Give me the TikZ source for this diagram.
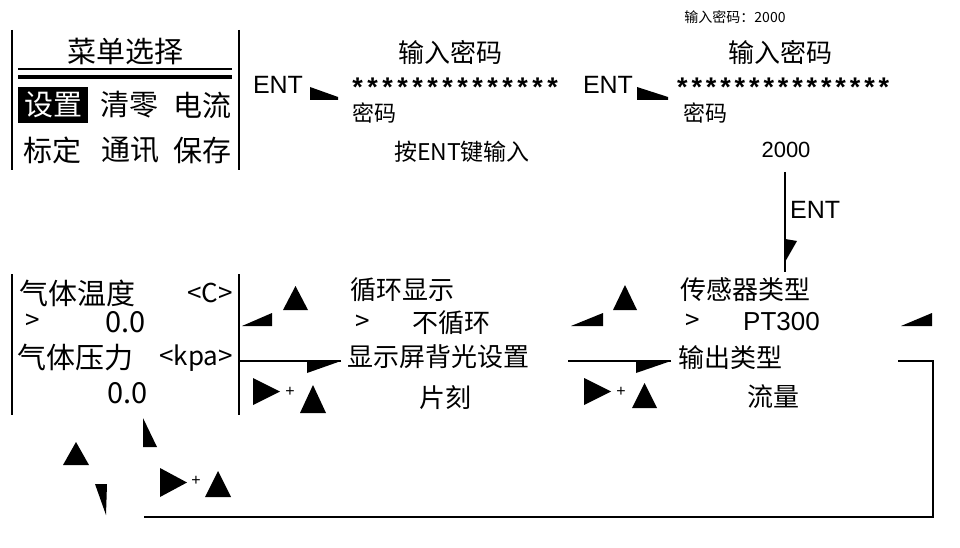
\documentclass[tikz,border=0pt]{standalone}
\usepackage{fontspec}
\setmainfont{Liberation Sans}
\newfontfamily\cjk{Noto Sans CJK SC}
\newcommand\fs[1]{\fontsize{#1}{#1}\selectfont}
\newcommand\starrun[2]{\foreach \i in {1,...,#1}{\makebox[#2]{\raisebox{-12pt}{*}}}}
\begin{document}
\begin{tikzpicture}[x=1pt,y=-1pt,
  cj/.style={inner sep=0pt, font=\cjk\fs{26}},
  cjbig/.style={inner sep=0pt, font=\cjk\fs{29}},
  cjsmall/.style={inner sep=0pt, font=\cjk\fs{14}},
  lat/.style={inner sep=0pt, font=\fs{25}},
  stars/.style={inner sep=0pt, font=\bfseries\fs{27}, text height=9pt, text depth=0pt},
  wedge/.style={fill=black, draw=none},
  ln/.style={line width=2pt},
  thickln/.style={line width=4pt}]
\useasboundingbox (0,0) rectangle (960,548);

% ---------- top-left menu box ----------
\coordinate (b1tl) at (12,30);  \coordinate (b1bl) at (12,170);
\coordinate (b1tr) at (239,30); \coordinate (b1br) at (239,170);
\draw[ln] (b1tl) -- (b1bl);
\draw[ln] (b1tr) -- (b1br);
\node[cjbig] (title) at (125,52) {菜单选择};
\coordinate (d1a) at (18,69); \coordinate (d1b) at (232,69);
\coordinate (d2a) at (18,77); \coordinate (d2b) at (232,77);
\draw[ln] (d1a) -- (d1b);
\draw[thickln] (d2a) -- (d2b);
\node[cjbig, fill=black, text=white, minimum width=70pt, minimum height=36pt] (m1) at (53,105) {设置};
\node[cjbig] (m2) at (129,105) {清零};
\node[cjbig] (m3) at (202,105) {电流};
\node[cjbig] (m4) at (52,150) {标定};
\node[cjbig] (m5) at (130,150) {通讯};
\node[cjbig] (m6) at (202,150) {保存};

% ---------- ENT 1 ----------
\node[lat] (ent1) at (278,85) {ENT};
\fill[wedge] (310,87) -- (310,100) -- (338,100) -- (338,97) -- cycle;

% ---------- password screen 1 ----------
\node[cj] (p1t) at (450,52) {输入密码};
\node[stars, anchor=base west] (p1s) at (350,85) {\starrun{14}{15pt}};
\node[cj, font=\cjk\fs{22}, anchor=west] (p1k) at (352,113) {密码};
\node[cj, font=\cjk\fs{23}] (p1h) at (462,152) {按ENT键输入};

% ---------- ENT 2 ----------
\node[lat] (ent2) at (608,85) {ENT};
\fill[wedge] (637,87) -- (637,100) -- (668,100) -- (668,97) -- cycle;

% ---------- password screen 2 ----------
\node[cjsmall] (p2n) at (735,17) {输入密码：2000};
\node[cj] (p2t) at (780,52) {输入密码};
\node[stars, anchor=base west] (p2s) at (675,85) {\starrun{15}{14.4pt}};
\node[cj, font=\cjk\fs{22}, anchor=west] (p2k) at (683,113) {密码};
\node[lat, font=\fs{22}] (p2v) at (786,150) {2000};

% ---------- ENT down ----------
\coordinate (dn1) at (785,172); \coordinate (dn2) at (785,272);
\draw[ln] (dn1) -- (dn2);
\fill[wedge] (785,239) -- (797,241) -- (785,262) -- cycle;
\node[lat, anchor=west] (ent3) at (790,210) {ENT};

% ---------- measurement box ----------
\coordinate (b2tl) at (12,274);  \coordinate (b2bl) at (12,415);
\coordinate (b2tr) at (239,274); \coordinate (b2br) at (239,415);
\draw[ln] (b2tl) -- (b2bl);
\draw[ln] (b2tr) -- (b2br);
\node[cjbig, anchor=west] (g1) at (19,293) {气体温度};
\node[cj, anchor=east] (g1u) at (233,293) {<C>};
\node[cj, anchor=west] (g1a) at (25,322) {>};
\node[cjbig, anchor=east] (g1v) at (146,322) {0.0};
\node[cjbig, anchor=west] (g2) at (17,358) {气体压力};
\node[cj, anchor=east] (g2u) at (233,358) {<kpa>};
\node[cjbig, anchor=east] (g2v) at (148,393) {0.0};

% connectors box -> display screen
\fill[wedge] (242,326) -- (272,326) -- (272,313) -- cycle;
\fill[wedge] (283,310) -- (308,310) -- (295.5,286) -- cycle;
\coordinate (c1a) at (239,361); \coordinate (c1b) at (341,361);
\draw[ln] (c1a) -- (c1b);
\fill[wedge] (307,361) -- (341,361) -- (307,373) -- cycle;
\fill[wedge] (253,378) -- (253,405) -- (280,391.5) -- cycle;
\node[inner sep=0pt, font=\fs{16}] (plus1) at (290,392) {+};
\fill[wedge] (300,413) -- (326,413) -- (313,385) -- cycle;

% ---------- display screen ----------
\node[cj, anchor=west] (s1) at (350,290) {循环显示};
\node[cj, anchor=west] (s1a) at (355,323) {>};
\node[cj, anchor=west] (s1v) at (412,323) {不循环};
\node[cj, anchor=west] (s2) at (347,357) {显示屏背光设置};
\node[cj] (s2v) at (445,398) {片刻};

% connectors display -> sensor screen
\fill[wedge] (571,326) -- (603,326) -- (603,313) -- cycle;
\fill[wedge] (613,310) -- (637,310) -- (625,285) -- cycle;
\coordinate (c2a) at (568,361); \coordinate (c2b) at (671,361);
\draw[ln] (c2a) -- (c2b);
\fill[wedge] (636,361) -- (671,361) -- (636,373) -- cycle;
\fill[wedge] (584,378) -- (584,405) -- (611,391.5) -- cycle;
\node[inner sep=0pt, font=\fs{16}] (plus2) at (621,392) {+};
\fill[wedge] (632,408) -- (657,408) -- (644.5,383) -- cycle;

% ---------- sensor screen ----------
\node[cj, anchor=west] (t1) at (680,290) {传感器类型};
\node[cj, anchor=west] (t1a) at (685,322) {>};
\node[lat, font=\fs{26}, anchor=west] (t1v) at (743,322) {PT300};
\node[cj, anchor=west] (t2) at (678,358) {输出类型};
\node[cj] (t2v) at (773,397) {流量};

% ---------- return loop ----------
\fill[wedge] (901,326) -- (932,326) -- (932,313) -- cycle;
\coordinate (r1) at (898,361); \coordinate (r2) at (933,361);
\coordinate (r3) at (933,517); \coordinate (r4) at (144,517);
\draw[ln] (r1) -- (r2) -- (r3) -- (r4);

% ---------- bottom-left marks ----------
\fill[wedge] (143,418) -- (143,447) -- (157,447) -- cycle;
\fill[wedge] (63,465) -- (89,465) -- (76,442) -- cycle;
\fill[wedge] (95,484) -- (107,484) -- (106,515) -- cycle;
\fill[wedge] (160,468) -- (160,497) -- (187,482.5) -- cycle;
\node[inner sep=0pt, font=\fs{16}] (plus3) at (196,481) {+};
\fill[wedge] (205,497) -- (231,497) -- (218,471) -- cycle;
\end{tikzpicture}
\end{document}
